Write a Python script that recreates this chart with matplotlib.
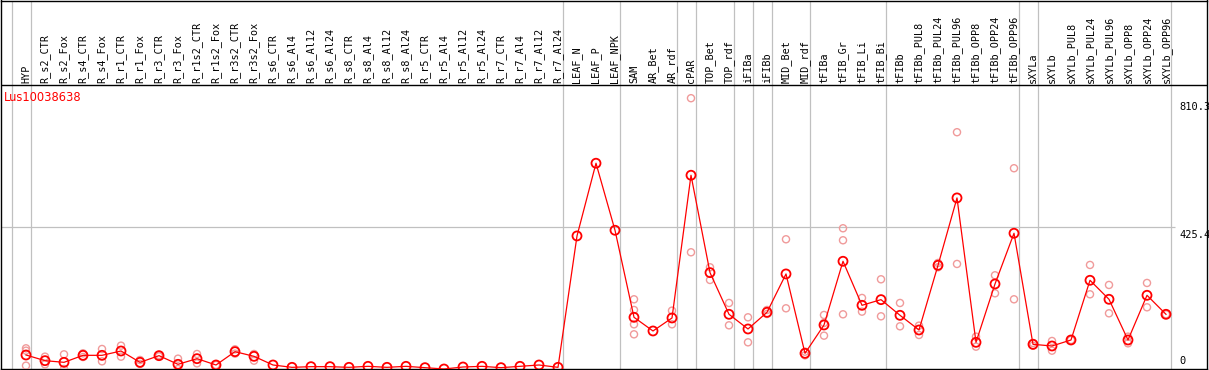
import matplotlib
matplotlib.use("Agg")
import matplotlib.pyplot as plt

# sample labels, in chart order
labels = ["HYP",
          "R_s2_CTR", "R_s2_Fox", "R_s4_CTR", "R_s4_Fox", "R_r1_CTR", "R_r1_Fox",
          "R_r3_CTR", "R_r3_Fox", "R_r1s2_CTR", "R_r1s2_Fox", "R_r3s2_CTR", "R_r3s2_Fox",
          "R_s6_CTR", "R_s6_Al4", "R_s6_Al12", "R_s6_Al24",
          "R_s8_CTR", "R_s8_Al4", "R_s8_Al12", "R_s8_Al24",
          "R_r5_CTR", "R_r5_Al4", "R_r5_Al12", "R_r5_Al24",
          "R_r7_CTR", "R_r7_Al4", "R_r7_Al12", "R_r7_Al24",
          "LEAF_N", "LEAF_P", "LEAF_NPK",
          "SAM", "AR_Bet", "AR_rdf", "cPAR", "TOP_Bet", "TOP_rdf",
          "iFIBa", "iFIBb", "MID_Bet", "MID_rdf",
          "tFIBa", "tFIB_Gr", "tFIB_Li", "tFIB_Bi",
          "tFIBb", "tFIBb_PUL8", "tFIBb_PUL24", "tFIBb_PUL96",
          "tFIBb_OPP8", "tFIBb_OPP24", "tFIBb_OPP96",
          "sXYLa", "sXYLb", "sXYLb_PUL8", "sXYLb_PUL24", "sXYLb_PUL96",
          "sXYLb_OPP8", "sXYLb_OPP24", "sXYLb_OPP96"]

# mean expression
means = [42, 25, 20, 41, 41, 54, 20, 40, 14, 31, 12, 52, 38,
         12, 5, 7, 7, 5, 8, 5, 8, 4, 0, 6, 8, 4, 8, 12, 5,
         399, 617, 416, 155, 114, 153, 581, 289, 164, 120, 170, 285, 47,
         132, 323, 191, 208, 161, 117, 311, 513, 80, 255, 407,
         74, 69, 87, 266, 209, 87, 221, 164]

# replicate values
reps = [[62, 55, 10], [37, 14], [44, 0], [47, 36], [60, 23], [70, 37], [27, 15],
        [42, 38], [31, 0], [45, 17], [12], [59, 46], [45, 25],
        [], [], [], [], [], [], [], [], [], [], [], [], [], [], [], [],
        [], [], [],
        [209, 177, 134, 104], [], [175, 134], [812, 350], [305, 267], [198, 131],
        [155, 80], [177, 165], [389, 182], [41, 52],
        [162, 100, 138], [422, 386, 164], [213, 172], [269, 158],
        [198, 128], [130, 102], [318, 305], [710, 315], [97, 67], [281, 227], [602, 209],
        [78, 70], [84, 55], [87], [312, 224], [252, 167], [97, 77], [258, 185], [164]]

# group ends (gray separators)
group_ends = [-1, 0, 28, 31, 34, 35, 37, 38, 39, 41, 45, 52, 53, 60]
ticks = [810.3, 425.4, 0]
gene = "Lus10038638"

W, H = 1209, 370
x0, dx = 26, 19          # pixel of first sample, pixel step
y0, k = 369, 0.3335      # pixel of value 0, pixels per unit
L, R, T, B = 1, 1207, 0.5, 368.5

fig = plt.figure(figsize=(W / 100, H / 100), dpi=100)
ax = fig.add_axes([L / W, (H - B) / H, (R - L) / W, (B - T) / H])
ax.set_xlim((L - x0) / dx, (R - x0) / dx)
ax.set_ylim((y0 - B) / k, (y0 - T) / k)
ax.set_xticks([])
ax.set_yticks([])
for s in ax.spines.values():
    s.set_color("black")
    s.set_linewidth(1.0)

px = lambda p: (p - x0) / dx
py = lambda p: (y0 - p) / k

for g in group_ends:
    ax.axvline(g + 0.24, color="#c0c0c0", lw=0.9, zorder=1)
ax.hlines(ticks[1], px(0), px(1175), color="#c0c0c0", lw=0.9, zorder=1)
ax.axhline(py(85), color="black", lw=1.0, zorder=2)

for i, lab in enumerate(labels):
    ax.text(i, py(83), lab, rotation=90, ha="center", va="bottom",
            family="DejaVu Sans Mono", fontsize=7.3)

ax.text(px(4), py(98), gene, color="red", ha="left", va="center", fontsize=8.3)

for t in ticks[:2]:
    ax.text(px(1179), t - 10, str(t), ha="left", va="top",
            family="DejaVu Sans Mono", fontsize=7.5)
ax.text(px(1179), py(366), "0", ha="left", va="bottom",
        family="DejaVu Sans Mono", fontsize=7.5)

rx = [i for i, r in enumerate(reps) for v in r]
ry = [v for r in reps for v in r]
ax.scatter(rx, ry, s=26, facecolors="none", edgecolors="#f09a9a", linewidths=1.0, zorder=3)

xs = list(range(len(means)))
ax.plot(xs, means, color="red", lw=0.9, zorder=4)
ax.scatter(xs, means, s=42, facecolors="none", edgecolors="red", linewidths=1.3, zorder=5)

fig.savefig("out.png", dpi=100)
